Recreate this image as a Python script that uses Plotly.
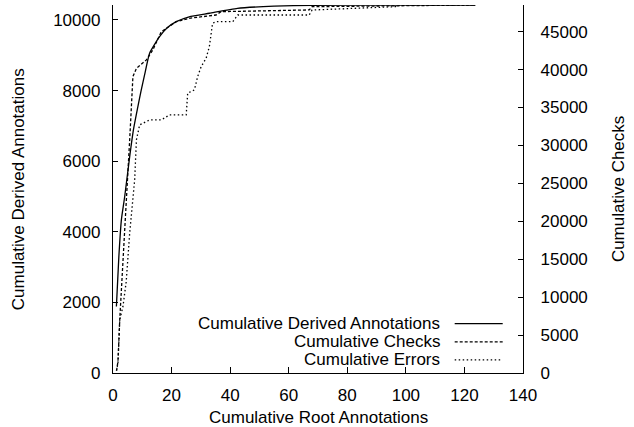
import plotly.graph_objects as go

# Cumulative Derived Annotations (left axis)
derived_x = [1.16, 2.0, 2.86, 4.0, 5.7, 7.0, 8.5, 9.6, 10.8, 12.5, 15.9, 18.5, 21.6, 26.0, 32.9, 42.5, 55.0, 68.0, 90.0, 123.7]
derived_y = [1885, 3300, 4339, 5000, 6131, 6900, 7546, 8000, 8450, 9057, 9527, 9780, 9952, 10090, 10190, 10331, 10390, 10415, 10424, 10424]

# Cumulative Checks (right axis)
checks_x = [1.2, 1.7, 2.3, 3.4, 4.0, 5.1, 5.7, 6.8, 8.0, 11.4, 13.6, 16.5, 21.6, 26.1, 35.2, 36.9, 67.0, 68.0, 123.7]
checks_y = [300, 1530, 7020, 14490, 18880, 25470, 30740, 39080, 40180, 41280, 42600, 45000, 46320, 46770, 47200, 47640, 47870, 48300, 48520]

# Cumulative Errors (right axis)
errors_x = [1.2, 1.7, 2.3, 3.4, 4.5, 5.7, 7.4, 8.0, 9.1, 12.5, 16.5, 19.3, 25.0, 25.5, 27.8, 28.9, 30.1, 31.8, 32.9, 34.0, 35.2, 40.9, 42.6, 67.0, 68.0, 85.0, 96.5, 97.6, 123.7]
errors_y = [300, 1320, 7000, 8770, 12000, 18450, 25470, 30740, 32710, 33370, 33370, 34030, 34030, 36890, 37330, 39080, 40390, 41500, 43030, 46110, 46320, 46320, 47200, 47200, 47860, 48090, 48300, 48520, 48520]

x_ticks = [0, 20, 40, 60, 80, 100, 120, 140]
y_ticks = [0, 2000, 4000, 6000, 8000, 10000]
y2_ticks = [0, 5000, 10000, 15000, 20000, 25000, 30000, 35000, 40000, 45000]

series_names = ["Cumulative Derived Annotations", "Cumulative Checks", "Cumulative Errors"]
dashes = ["solid", "3px,2px", "1.5px,2.5px"]

FONT = "Liberation Sans, Arial, Helvetica, sans-serif"
FS = 17
LW = 1.3

fig = go.Figure()
fig.add_trace(go.Scatter(x=derived_x, y=derived_y, mode="lines", name=series_names[0],
                         line=dict(color="black", width=LW, dash=dashes[0], shape="spline", smoothing=0.5),
                         yaxis="y"))
fig.add_trace(go.Scatter(x=checks_x, y=checks_y, mode="lines", name=series_names[1],
                         line=dict(color="black", width=LW, dash=dashes[1]), yaxis="y2"))
fig.add_trace(go.Scatter(x=errors_x, y=errors_y, mode="lines", name=series_names[2],
                         line=dict(color="black", width=LW, dash=dashes[2]), yaxis="y2"))

axis_common = dict(showgrid=False, zeroline=False, showline=True, linecolor="black", linewidth=1.3,
                   ticks="inside", tickcolor="black", tickwidth=1, tickfont=dict(family=FONT, size=FS, color="black"))

fig.update_layout(
    width=634, height=427,
    margin=dict(l=113, r=111, t=5, b=54, autoexpand=False),
    paper_bgcolor="white", plot_bgcolor="white",
    showlegend=False,
    font=dict(family=FONT, size=FS, color="black"),
    xaxis=dict(range=[0, 140], tickvals=x_ticks, ticktext=[str(v) for v in x_ticks],
               ticklen=6, ticklabelstandoff=6, **axis_common),
    yaxis=dict(range=[0, 10424], tickvals=y_ticks, ticktext=[str(v) for v in y_ticks],
               ticklen=5, ticklabelstandoff=8, **axis_common),
    yaxis2=dict(range=[0, 48520], tickvals=y2_ticks, ticktext=[str(v) for v in y2_ticks],
                ticklen=5, ticklabelstandoff=13, overlaying="y", side="right", **axis_common),
)

# axis titles
fig.add_annotation(text="Cumulative Root Annotations", xref="paper", yref="paper", x=0.5, y=-0.12,
                   xanchor="center", yanchor="middle", showarrow=False, font=dict(family=FONT, size=FS))
fig.add_annotation(text="Cumulative Derived Annotations", xref="paper", yref="paper", x=-0.2312, y=0.5,
                   xanchor="center", yanchor="middle", textangle=-90, showarrow=False, font=dict(family=FONT, size=FS))
fig.add_annotation(text="Cumulative Checks", xref="paper", yref="paper", x=1.232, y=0.5,
                   xanchor="center", yanchor="middle", textangle=-90, showarrow=False, font=dict(family=FONT, size=FS))

# gnuplot-style legend: text right-aligned, sample on the right
rows = [0.1340, 0.0846, 0.0358]
for name, dash, ry in zip(series_names, dashes, rows):
    fig.add_annotation(text=name, xref="paper", yref="paper", x=0.8017, y=ry, xanchor="right", yanchor="middle",
                       showarrow=False, font=dict(family=FONT, size=FS))
    fig.add_shape(type="line", xref="paper", yref="paper", x0=0.8334, x1=0.9505, y0=ry, y1=ry,
                  line=dict(color="black", width=LW, dash=dash))

fig.write_html("out.html", config={"displayModeBar": False},
               post_script="document.body.style.margin='0px';")
